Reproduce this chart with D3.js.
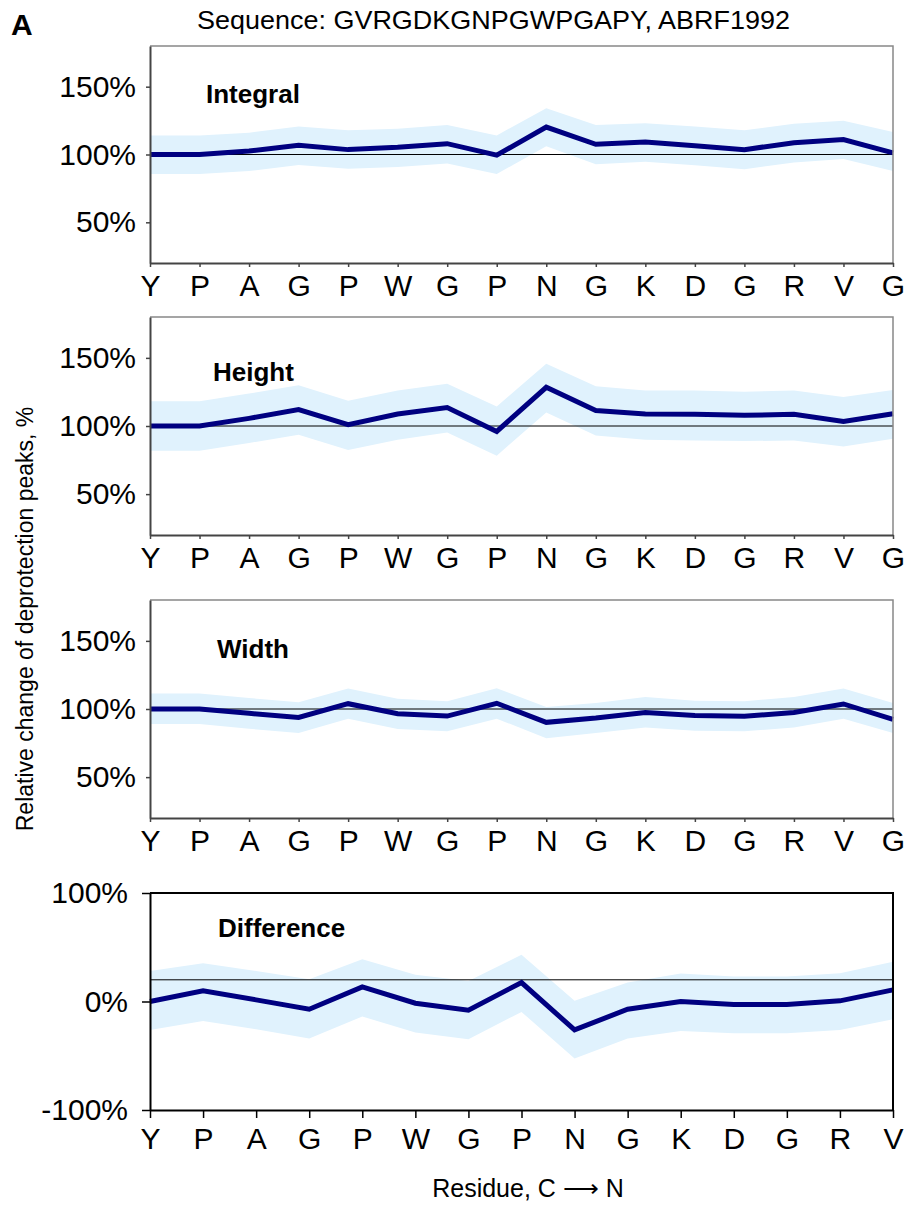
<!DOCTYPE html>
<html>
<head>
<meta charset="utf-8">
<script src="https://cdn.jsdelivr.net/npm/d3@7"></script>
<style>
body { margin: 0; background: #fff; }
svg { font-family: "Liberation Sans", Arial, sans-serif; }
</style>
</head>
<body>
<svg id="chart" width="912" height="1205"></svg>
<script>
// Residues, C -> N (last G is not in the difference panel)
const residues = ['Y', 'P', 'A', 'G', 'P', 'W', 'G', 'P', 'N', 'G', 'K', 'D', 'G', 'R', 'V', 'G'];

// Integral, %
const integralMean = [100, 100, 102.6, 106.8, 103.6, 105.3, 108, 99.5, 120.2, 107.5, 109.2, 106.5, 103.6, 108.7, 111, 101.2];
const integralUpper = [114.1, 114.1, 116.1, 120.7, 117.8, 119, 121.7, 114.1, 134.1, 121.7, 123.1, 120.7, 117.8, 122.7, 124.9, 116.5];
const integralLower = [85.6, 85.6, 87.8, 92.2, 89.5, 90.7, 93.4, 85.6, 106.1, 92.9, 94.6, 92, 89.2, 94.1, 96.6, 87.8];

// Height, %
const heightMean = [100, 100, 105.6, 112, 101, 108.8, 113.5, 96, 128.4, 111.3, 108.8, 108.6, 107.8, 108.6, 103.4, 109];
const heightUpper = [118.1, 118.1, 123.8, 129.9, 118.6, 126, 131.1, 114.4, 145.6, 129.2, 126, 126, 125.2, 126, 121.3, 126.5];
const heightLower = [81.8, 81.8, 87.5, 93.6, 82.3, 89.9, 95.3, 78.2, 110, 93.1, 89.9, 89.4, 88.9, 89.4, 85, 90.7];

// Width, %
const widthMean = [100, 100, 96.8, 93.8, 103.9, 96.5, 94.8, 104.2, 90.2, 93.4, 97.5, 95.3, 94.6, 97.5, 103.7, 92.4];
const widthUpper = [111.3, 111.3, 108.1, 104.9, 115, 107.6, 105.7, 115.3, 101.5, 104.4, 108.8, 106.1, 105.7, 108.8, 115, 104.4];
const widthLower = [88.9, 88.9, 85.5, 82.3, 92.9, 85.3, 83.6, 92.9, 78.6, 82.3, 86.5, 84, 83.6, 86.5, 92.9, 82.3];

// Difference, % (15 residues)
const diffMean = [0, 9.8, 1.5, -7.1, 13.5, -1.6, -8, 17.5, -26.2, -7.1, 0, -2.8, -2.8, 0.6, 10.7];
const diffUpper = [28.2, 35.3, 28.2, 20.6, 39, 24.6, 19, 43, 0.6, 17.5, 25.8, 23.1, 23.1, 26.1, 36.6];
const diffLower = [-26.2, -17.9, -25.6, -34.2, -13.8, -28.6, -34.8, -9.6, -52.6, -34.2, -27.1, -29.3, -29.3, -26.2, -16.3];

const svg = d3.select('#chart');
const left = 150, right = 893;

const panels = [
	{ name: 'Integral', mean: integralMean, upper: integralUpper, lower: integralLower, n: 16,
	  top: 46, bottom: 263, domain: [20, 180], ticks: [50, 100, 150], ref: 100, labelX: 206, labelY: 103, bold: false },
	{ name: 'Height', mean: heightMean, upper: heightUpper, lower: heightLower, n: 16,
	  top: 317, bottom: 535, domain: [20, 180], ticks: [50, 100, 150], ref: 100, labelX: 213, labelY: 381, bold: false },
	{ name: 'Width', mean: widthMean, upper: widthUpper, lower: widthLower, n: 16,
	  top: 600, bottom: 818, domain: [20, 180], ticks: [50, 100, 150], ref: 100, labelX: 217, labelY: 658, bold: false },
	{ name: 'Difference', mean: diffMean, upper: diffUpper, lower: diffLower, n: 15,
	  top: 893, bottom: 1110, domain: [-100, 100], ticks: [-100, 0, 100], ref: 20, labelX: 218, labelY: 937, bold: true }
];

panels.forEach((p) => {
	const idx = d3.range(p.n);
	const x = d3.scalePoint().domain(idx).range([left, right]);
	const y = d3.scaleLinear().domain(p.domain).range([p.bottom, p.top]);
	const g = svg.append('g');

	// error band
	const area = d3.area()
		.x((i) => x(i))
		.y0((i) => y(p.lower[i]))
		.y1((i) => y(p.upper[i]));
	g.append('path').datum(idx).attr('d', area).attr('fill', '#e0f2fd');

	// reference line
	g.append('line')
		.attr('x1', left).attr('x2', right)
		.attr('y1', y(p.ref)).attr('y2', y(p.ref))
		.attr('stroke', '#000').attr('stroke-width', 1);

	// mean line
	const line = d3.line().x((i) => x(i)).y((i) => y(p.mean[i]));
	g.append('path').datum(idx).attr('d', line)
		.attr('fill', 'none').attr('stroke', '#000080').attr('stroke-width', 5);

	// frame top / right
	const frameColor = p.bold ? '#000' : '#888';
	const frameWidth = p.bold ? 2 : 1.5;
	g.append('path')
		.attr('d', `M${left},${p.top}H${right}V${p.bottom}`)
		.attr('fill', 'none').attr('stroke', frameColor).attr('stroke-width', frameWidth);

	const axisColor = p.bold ? '#000' : '#444';
	const tickLen = p.bold ? 8 : 4;

	const yAxis = g.append('g')
		.attr('transform', `translate(${left},0)`)
		.call(d3.axisLeft(y).tickValues(p.ticks).tickSize(tickLen).tickSizeOuter(0)
			.tickPadding(p.bold ? 14 : 10).tickFormat((d) => d + '%'));

	const xAxis = g.append('g')
		.attr('transform', `translate(0,${p.bottom})`)
		.call(d3.axisBottom(x).tickSize(tickLen).tickSizeOuter(0)
			.tickPadding(p.bold ? 10 : 8).tickFormat((i) => residues[i]));

	[yAxis, xAxis].forEach((a) => {
		a.select('.domain').attr('stroke', axisColor).attr('stroke-width', 2);
		a.selectAll('.tick line').attr('stroke', axisColor).attr('stroke-width', 1.5);
		a.selectAll('.tick text').attr('font-size', 30).attr('fill', '#000')
			.attr('font-family', '"Liberation Sans", Arial, sans-serif');
	});

	g.append('text')
		.attr('x', p.labelX).attr('y', p.labelY)
		.attr('font-size', 26).attr('font-weight', 'bold')
		.text(p.name);
});

// titles
svg.append('text')
	.attr('x', 11).attr('y', 35)
	.attr('font-size', 30).attr('font-weight', 'bold')
	.text('A');

svg.append('text')
	.attr('x', 197).attr('y', 29)
	.attr('font-size', 25)
	.attr('textLength', 593).attr('lengthAdjust', 'spacingAndGlyphs')
	.text('Sequence: GVRGDKGNPGWPGAPY, ABRF1992');

svg.append('text')
	.attr('transform', 'translate(33,619) rotate(-90)')
	.attr('text-anchor', 'middle').attr('font-size', 23)
	.text('Relative change of deprotection peaks, %');

svg.append('text')
	.attr('x', 528).attr('y', 1197)
	.attr('text-anchor', 'middle').attr('font-size', 25)
	.text('Residue, C \u27F6 N');
</script>
</body>
</html>
